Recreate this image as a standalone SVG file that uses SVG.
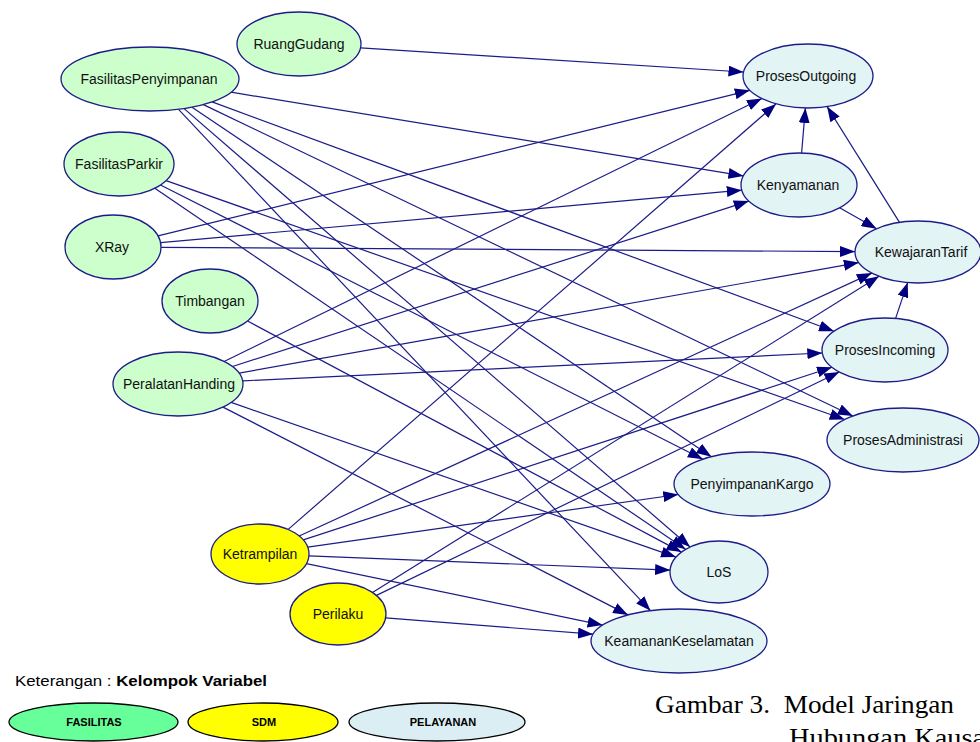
<svg xmlns="http://www.w3.org/2000/svg" width="980" height="742" viewBox="0 0 980 742">
<style>
.e{fill:none;stroke:#1c1c88;stroke-width:1.2}
.n ellipse{stroke:#1c1c88;stroke-width:1.3}
.f ellipse{fill:#ccffcc}
.s ellipse{fill:#ffff00}
.p ellipse{fill:#e2f4f4}
.n text{font-family:"Liberation Sans",Arial,sans-serif;font-size:14px;fill:#111;text-anchor:middle}
.lg ellipse{stroke:#000;stroke-width:1.3}
.lg text{font-family:"Liberation Sans",Arial,sans-serif;font-size:11px;font-weight:bold;fill:#000;text-anchor:middle}
.cap{font-family:"Liberation Serif","Times New Roman",serif;font-size:26px;fill:#000}
</style>
<defs>
<marker id="a" markerUnits="userSpaceOnUse" markerWidth="15" markerHeight="11" refX="15" refY="5.5" orient="auto">
<path d="M0,0 L15,5.5 L0,11 z" fill="#000080"/>
</marker>
</defs>
<rect width="980" height="742" fill="#fff"/>
<g id="connectors" marker-end="url(#a)">
<line class="e" x1="360.6" y1="47.9" x2="743.5" y2="72"/>
<line class="e" x1="231" y1="92.2" x2="743.4" y2="175.9"/>
<line class="e" x1="212.1" y1="101.9" x2="834" y2="331.2"/>
<line class="e" x1="203.4" y1="104.6" x2="852.9" y2="416"/>
<line class="e" x1="192" y1="107.2" x2="711.4" y2="456.7"/>
<line class="e" x1="184.1" y1="108.6" x2="690.1" y2="547"/>
<line class="e" x1="178.5" y1="109.3" x2="650.5" y2="610.7"/>
<line class="e" x1="166.1" y1="180.6" x2="844.7" y2="419.5"/>
<line class="e" x1="160.5" y1="185" x2="702.9" y2="459.2"/>
<line class="e" x1="154.8" y1="188.3" x2="685.6" y2="549.3"/>
<line class="e" x1="158" y1="235.9" x2="749.8" y2="90.3"/>
<line class="e" x1="160.6" y1="242.7" x2="741.8" y2="190.2"/>
<line class="e" x1="161" y1="247.3" x2="855" y2="251.6"/>
<line class="e" x1="247.5" y1="321" x2="681.5" y2="552.1"/>
<line class="e" x1="224.1" y1="361.5" x2="761.9" y2="98.5"/>
<line class="e" x1="232.5" y1="366.5" x2="748.8" y2="201.1"/>
<line class="e" x1="239.1" y1="373.1" x2="858.8" y2="262.6"/>
<line class="e" x1="242.7" y1="380.9" x2="822.3" y2="353"/>
<line class="e" x1="231.1" y1="402.4" x2="676" y2="557.1"/>
<line class="e" x1="223" y1="407.1" x2="628.1" y2="614.9"/>
<line class="e" x1="288.2" y1="529.4" x2="776" y2="103.9"/>
<line class="e" x1="299.2" y1="536" x2="871.9" y2="273.1"/>
<line class="e" x1="303.3" y1="539.9" x2="832" y2="367.3"/>
<line class="e" x1="307.7" y1="547.2" x2="678.3" y2="494.5"/>
<line class="e" x1="308.9" y1="555.9" x2="670.1" y2="570.1"/>
<line class="e" x1="306.4" y1="563.6" x2="602.6" y2="625.1"/>
<line class="e" x1="372.5" y1="592.5" x2="879" y2="276.3"/>
<line class="e" x1="376.5" y1="595.4" x2="839.3" y2="372"/>
<line class="e" x1="385.6" y1="617.8" x2="593" y2="634.2"/>
<line class="e" x1="801.6" y1="153.1" x2="805.4" y2="107.9"/>
<line class="e" x1="839.6" y1="207.8" x2="876.6" y2="228.7"/>
<line class="e" x1="899.5" y1="222.4" x2="827.1" y2="106.6"/>
<line class="e" x1="895.6" y1="318.4" x2="907.7" y2="282.4"/>
</g>
<g id="RuangGudang" class="n f"><ellipse cx="299" cy="44" rx="62" ry="32"/><text x="299" y="49">RuangGudang</text></g>
<g id="FasilitasPenyimpanan" class="n f"><ellipse cx="150" cy="79" rx="89" ry="32"/><text x="149" y="84">FasilitasPenyimpanan</text></g>
<g id="FasilitasParkir" class="n f"><ellipse cx="119" cy="164" rx="55" ry="32"/><text x="119" y="169">FasilitasParkir</text></g>
<g id="XRay" class="n f"><ellipse cx="113" cy="247" rx="48" ry="32"/><text x="112" y="252">XRay</text></g>
<g id="Timbangan" class="n f"><ellipse cx="210" cy="301" rx="48" ry="32"/><text x="210" y="306">Timbangan</text></g>
<g id="PeralatanHanding" class="n f"><ellipse cx="178" cy="384" rx="65" ry="32"/><text x="179" y="389">PeralatanHanding</text></g>
<g id="Ketrampilan" class="n s"><ellipse cx="260" cy="554" rx="49" ry="30"/><text x="260" y="559">Ketrampilan</text></g>
<g id="Perilaku" class="n s"><ellipse cx="338" cy="614" rx="48" ry="31"/><text x="338" y="619">Perilaku</text></g>
<g id="ProsesOutgoing" class="n p"><ellipse cx="808" cy="76" rx="65" ry="32"/><text x="806" y="81">ProsesOutgoing</text></g>
<g id="Kenyamanan" class="n p"><ellipse cx="799" cy="185" rx="58" ry="32"/><text x="798" y="190">Kenyamanan</text></g>
<g id="KewajaranTarif" class="n p"><ellipse cx="918" cy="252" rx="63" ry="31"/><text x="921" y="257">KewajaranTarif</text></g>
<g id="ProsesIncoming" class="n p"><ellipse cx="885" cy="350" rx="63" ry="32"/><text x="885" y="355">ProsesIncoming</text></g>
<g id="ProsesAdministrasi" class="n p"><ellipse cx="903" cy="440" rx="76" ry="32"/><text x="903" y="445">ProsesAdministrasi</text></g>
<g id="PenyimpananKargo" class="n p"><ellipse cx="752" cy="484" rx="78" ry="32"/><text x="752" y="489">PenyimpananKargo</text></g>
<g id="LoS" class="n p"><ellipse cx="719" cy="572" rx="49" ry="31"/><text x="719" y="577">LoS</text></g>
<g id="KeamananKeselamatan" class="n p"><ellipse cx="679" cy="641" rx="88" ry="32"/><text x="679" y="646">KeamananKeselamatan</text></g>
<g id="legend">
<text x="15" y="686" font-family="&quot;Liberation Sans&quot;,Arial,sans-serif" font-size="15.5" fill="#000" textLength="252" lengthAdjust="spacingAndGlyphs">Keterangan : <tspan font-weight="bold">Kelompok Variabel</tspan></text>
<g class="lg"><ellipse cx="93.5" cy="722" rx="84.5" ry="19" fill="#66ff99"/><text x="94" y="726">FASILITAS</text></g>
<g class="lg"><ellipse cx="263" cy="722" rx="75" ry="19" fill="#ffff00"/><text x="264" y="726">SDM</text></g>
<g class="lg"><ellipse cx="437" cy="722" rx="88" ry="19" fill="#dbeef3"/><text x="443" y="726">PELAYANAN</text></g>
</g>
<text class="cap" x="655" y="713" textLength="299" lengthAdjust="spacingAndGlyphs">Gambar 3.&#160; Model Jaringan</text>
<text class="cap" x="789" y="746" textLength="196" lengthAdjust="spacingAndGlyphs">Hubungan Kausa</text>
</svg>
